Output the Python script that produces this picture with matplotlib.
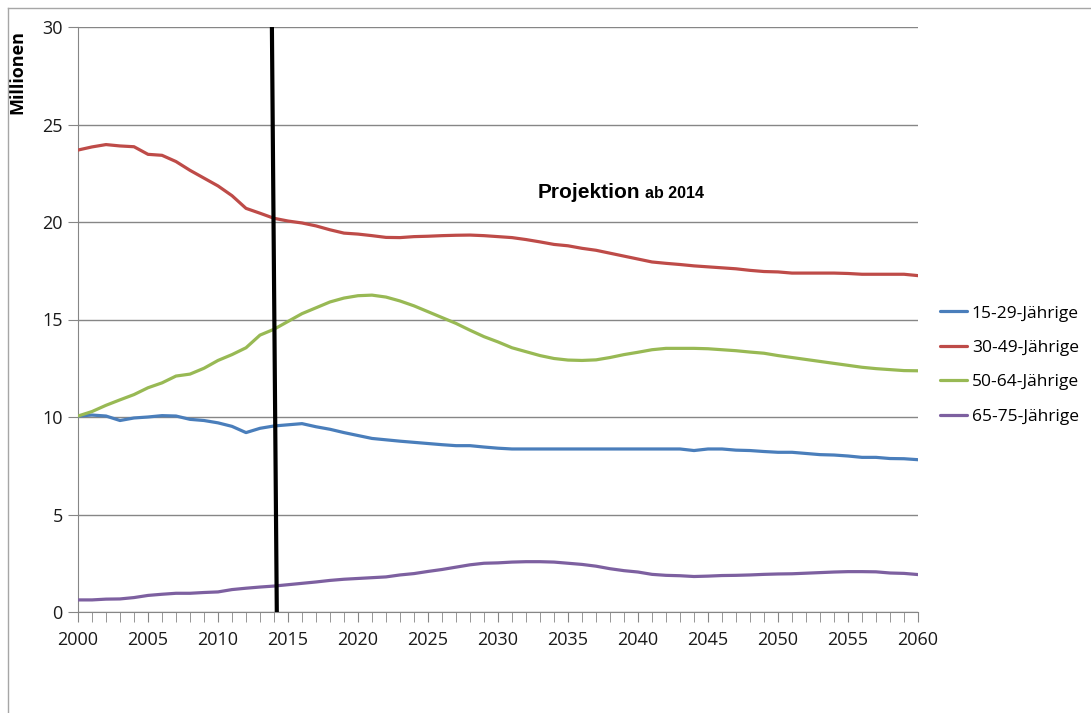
import matplotlib.pyplot as plt
from matplotlib.lines import Line2D

years = list(range(2000, 2061))

age_15_29 = [10.05, 10.1, 10.05, 9.82, 9.95, 10.0, 10.07, 10.05, 9.88, 9.82,
             9.7, 9.52, 9.2, 9.42, 9.54, 9.6, 9.66, 9.5, 9.37, 9.2,
             9.05, 8.9, 8.83, 8.76, 8.7, 8.64, 8.58, 8.53, 8.53, 8.46,
             8.4, 8.36, 8.36, 8.36, 8.36, 8.36, 8.36, 8.36, 8.36, 8.36,
             8.36, 8.36, 8.36, 8.36, 8.28, 8.36, 8.36, 8.3, 8.28, 8.23,
             8.19, 8.19, 8.13, 8.07, 8.05, 8.0, 7.93, 7.93, 7.87, 7.86,
             7.81]

age_30_49 = [23.69, 23.85, 23.97, 23.9, 23.86, 23.47, 23.42, 23.1, 22.65, 22.25,
             21.85, 21.35, 20.7, 20.45, 20.19, 20.05, 19.95, 19.8, 19.6, 19.43,
             19.38, 19.3, 19.21, 19.2, 19.25, 19.27, 19.3, 19.32, 19.33, 19.3,
             19.25, 19.2, 19.1, 18.98, 18.85, 18.78, 18.65, 18.55, 18.4, 18.25,
             18.1, 17.95, 17.88, 17.82, 17.75, 17.7, 17.65, 17.6, 17.52, 17.46,
             17.44, 17.38, 17.38, 17.38, 17.38, 17.36, 17.32, 17.32, 17.32, 17.32,
             17.25]

age_50_64 = [10.05, 10.28, 10.6, 10.88, 11.15, 11.5, 11.75, 12.1, 12.2, 12.5,
             12.9, 13.2, 13.55, 14.2, 14.5, 14.9, 15.3, 15.6, 15.9, 16.1,
             16.22, 16.25, 16.15, 15.95, 15.7, 15.4, 15.1, 14.8, 14.45, 14.12,
             13.85, 13.55, 13.35, 13.15, 13.0, 12.92, 12.9, 12.93, 13.05, 13.2,
             13.32, 13.45, 13.52, 13.52, 13.52, 13.5, 13.45, 13.4, 13.33, 13.27,
             13.15, 13.05, 12.95, 12.85, 12.75, 12.65, 12.55, 12.48, 12.43, 12.38,
             12.37]

age_65_75 = [0.62, 0.62, 0.66, 0.67, 0.74, 0.85, 0.91, 0.96, 0.96, 1.0,
             1.03, 1.15, 1.22, 1.28, 1.33, 1.4, 1.47, 1.54, 1.62, 1.68,
             1.72, 1.76, 1.8, 1.9, 1.97, 2.08, 2.18, 2.3, 2.42, 2.5,
             2.52, 2.56, 2.58, 2.58, 2.56, 2.5, 2.44, 2.35, 2.22, 2.12,
             2.05, 1.93, 1.88, 1.86, 1.82, 1.84, 1.87, 1.88, 1.9, 1.93,
             1.95, 1.96, 1.99, 2.02, 2.05, 2.07, 2.07, 2.06, 2.0, 1.98,
             1.92]

labels = ['15-29-Jährige', '30-49-Jährige', '50-64-Jährige', '65-75-Jährige']
colors = ['#4A7EBB', '#BE4B48', '#98B954', '#7D60A0']

fig = plt.figure(figsize=(10.91, 7.13), dpi=100)
ax = fig.add_axes([78 / 1091, 101 / 713, 840 / 1091, 585 / 713])

# outer chart frame (only top and left edge are visible)
fig.add_artist(Line2D([8 / 1091, 8 / 1091], [0, 1 - 8 / 713], transform=fig.transFigure,
                      color='#a6a6a6', lw=1))
fig.add_artist(Line2D([8 / 1091, 1], [1 - 8 / 713, 1 - 8 / 713], transform=fig.transFigure,
                      color='#a6a6a6', lw=1))

for series, lab, col in zip([age_15_29, age_30_49, age_50_64, age_65_75], labels, colors):
    ax.plot(years, series, color=col, lw=2.3, label=lab, solid_capstyle='round', zorder=3)

# projection start marker
ax.plot([2013.85, 2014.2], [30, 0], color='black', lw=3, zorder=4)

t1 = ax.text(2032.8, 21.23, 'Projektion', fontsize=15, fontweight='bold',
             family='Liberation Sans', va='baseline', ha='left')
ax.annotate('ab 2014', xy=(1, 0), xycoords=t1, xytext=(4, 3.2), textcoords='offset points',
            fontsize=11.5, fontweight='bold', family='Liberation Sans',
            va='baseline', ha='left')

ax.set_xlim(2000, 2060)
ax.set_ylim(0, 30)
ax.set_xticks(range(2000, 2061, 5))
ax.set_xticks(range(2000, 2061), minor=True)
ax.set_yticks(range(0, 31, 5))
ax.yaxis.grid(True, color='#868686', lw=1)
ax.set_axisbelow(True)

for side in ['top', 'right']:
    ax.spines[side].set_visible(False)
for side in ['left', 'bottom']:
    ax.spines[side].set_color('#868686')

ax.tick_params(axis='both', which='both', direction='out', color='#868686',
               labelsize=13, labelcolor='#1a1a1a')
ax.tick_params(axis='x', which='both', length=7, pad=7)
ax.tick_params(axis='y', length=7, pad=4)
for t in ax.get_xticklabels() + ax.get_yticklabels():
    t.set_family('Open Sans')

ax.set_ylabel('Millionen', fontsize=13, fontweight='bold', family='Open Sans')
ax.yaxis.set_label_coords(-0.062, 0.923)

handles, labs = ax.get_legend_handles_labels()
fig.legend(handles, labs, loc='center left', bbox_to_anchor=(924 / 1091, 1 - 365 / 713),
           frameon=False, prop={'family': 'Open Sans', 'size': 12.5},
           handlelength=1.6, handletextpad=0.25, labelspacing=1.05)

plt.savefig('out.png', dpi=100)
